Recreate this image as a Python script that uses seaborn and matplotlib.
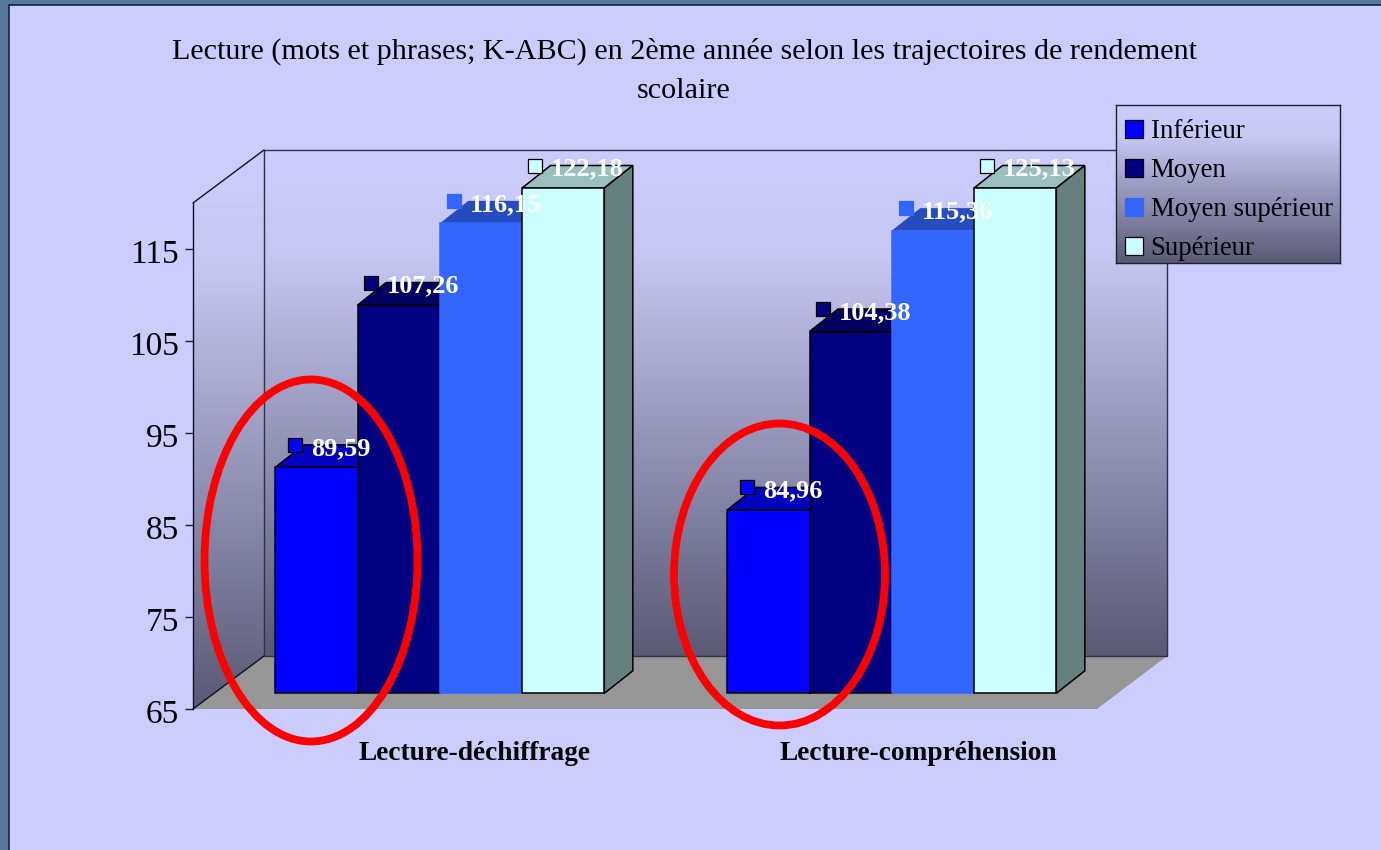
import pandas as pd
import numpy as np
import matplotlib
matplotlib.use('Agg')
import matplotlib.pyplot as plt
import seaborn as sns
from matplotlib.colors import LinearSegmentedColormap, to_rgb
from matplotlib.patches import Polygon, Rectangle, Ellipse, Patch
from matplotlib.transforms import Affine2D

# Chart values
tests = ['Lecture-déchiffrage', 'Lecture-compréhension']
levels = ['Inférieur', 'Moyen', 'Moyen supérieur', 'Supérieur']
inferieur = [89.59, 84.96]
moyen = [107.26, 104.38]
moyen_superieur = [116.15, 115.36]
superieur = [122.18, 125.13]
y_ticks = [65, 75, 85, 95, 105, 115]
title = ('Lecture (mots et phrases; K-ABC) en 2ème année selon les trajectoires de rendement\n'
         'scolaire')

colors = ['#0000FF', '#000080', '#3366FF', '#CCFFFF']
edges = ['black', 'black', '#3366FF', 'black']

W, H = 1381, 850
Y_MIN, Y_MAX = 65, 120

sns.set_theme(style='ticks')
plt.rcParams['font.family'] = ['Liberation Serif', 'DejaVu Serif']

df = pd.DataFrame({
    'test': tests * 4,
    'level': np.repeat(levels, 2),
    'value': inferieur + moyen + moyen_superieur + superieur,
})

wall_cmap = LinearSegmentedColormap.from_list(
    'wall', [(0, '#CCCCFF'), (0.2, '#C7C7F4'), (1, '#5A5A74')])


def px_axes(x0, y0, x1, y1, **kws):
    # axes placed with picture pixels (y going down)
    return fig.add_axes([x0 / W, 1 - y1 / H, (x1 - x0) / W, (y1 - y0) / H], **kws)


def gradient(axis, points, zorder=1):
    xs = [p[0] for p in points]
    ys = [p[1] for p in points]
    img = axis.imshow(np.linspace(0, 1, 256).reshape(-1, 1), cmap=wall_cmap, aspect='auto',
                      extent=[min(xs), max(xs), max(ys), min(ys)], zorder=zorder)
    img.set_clip_path(Polygon(points, transform=axis.transData))


fig = plt.figure(figsize=(W / 100, H / 100), dpi=100, facecolor='#55799F')

# Slide panel, walls and floor, in pixels
bg = fig.add_axes([0, 0, 1, 1], zorder=0)
bg.add_patch(Rectangle((9, 5), W, H, facecolor='#CCCCFF', edgecolor='#14243A', linewidth=1.2))
left_wall = [(193, 203), (264, 150), (264, 656), (193, 709)]
back_wall = [(264, 150), (1167, 150), (1167, 656), (264, 656)]
floor = [(193, 709), (264, 656), (1167, 656), (1097, 709)]
gradient(bg, left_wall)
gradient(bg, back_wall)
bg.add_patch(Polygon(floor, facecolor='#969696', edgecolor='none', zorder=2))
bg.plot([1167, 264, 264, 1167, 1167], [150, 150, 656, 656, 150], color='#30304A', lw=1, zorder=3)
bg.plot([193, 264], [203, 150], color='#101020', lw=1, zorder=3)
bg.plot([193, 264], [709, 656], color='#101020', lw=1, zorder=3)
bg.set_xlim(0, W)
bg.set_ylim(H, 0)
bg.axis('off')

# Y axis, on the front edge of the floor (x runs in pixels here, so ticks are 8 px)
ay = px_axes(193, 203, 194, 709, zorder=1)
ay.set_facecolor('none')
ay.hlines(y_ticks, -8, 0, color='#202030', lw=1, clip_on=False)
ay.set_xlim(0, 1)
ay.set_ylim(Y_MIN, Y_MAX)
ay.set_yticks(y_ticks)
ay.set_xticks([])
for name in ['top', 'right', 'bottom']:
    ay.spines[name].set_visible(False)
ay.spines['left'].set_color('#101020')
ay.spines['left'].set_linewidth(1)
ay.tick_params(axis='y', left=False, labelsize=24, labelcolor='black', pad=4.2)
for lab in ay.get_yticklabels():
    lab.set_transform(lab.get_transform() + Affine2D().translate(0, -2))

# Bars, on their own plane set back from the y axis
ax = px_axes(213.8, 188, 1117.8, 693.3, zorder=2)
ax.set_facecolor('none')
sns.barplot(data=df, x='test', y='value', hue='level', order=tests, hue_order=levels,
            palette=colors, saturation=1, width=0.728, gap=0, legend=False, ax=ax)
ax.set_xlim(-0.5, 1.5)
ax.set_ylim(Y_MIN, Y_MAX)
sns.despine(ax=ax, left=True, bottom=True, top=True, right=True)
ax.set_xlabel('')
ax.set_ylabel('')
ax.tick_params(axis='both', left=False, bottom=False, labelleft=False, length=0, pad=34.5)
for lab, shift in zip(ax.get_xticklabels(), [35, 27]):
    lab.set_fontsize(19.7)
    lab.set_fontweight('bold')
    lab.set_color('black')
    lab.set_transform(lab.get_transform() + Affine2D().translate(shift, 0))

# pixels to data units on the bar plane
ux = 1 / 452
uy = (Y_MAX - Y_MIN) / (693.3 - 188)
depth_x, depth_y = 28.5 * ux, 22.5 * uy
marker_dx = [20, 13, 14, 13]

for i, container in enumerate(ax.containers):
    base = np.array(to_rgb(colors[i]))
    for bar in container:
        value = bar.get_height()
        x0 = bar.get_x()
        x1 = x0 + bar.get_width()
        top = min(value, Y_MAX)
        bar.set_y(Y_MIN)
        bar.set_height(top - Y_MIN)
        bar.set_facecolor(colors[i])
        bar.set_edgecolor(edges[i])
        bar.set_linewidth(1.1)
        bar.set_clip_on(False)
        bar.set_zorder(3 + 2 * i)
        edge = edges[i] if edges[i] == 'black' else 'none'
        ax.add_patch(Polygon([(x0, top), (x0 + depth_x, top + depth_y), (x1 + depth_x, top + depth_y), (x1, top)],
                             facecolor=base * 0.75, edgecolor=edge, linewidth=1.1,
                             clip_on=False, zorder=2 + 2 * i))
        ax.add_patch(Polygon([(x1, Y_MIN), (x1 + depth_x, Y_MIN + depth_y), (x1 + depth_x, top + depth_y), (x1, top)],
                             facecolor=base * 0.5, edgecolor=edge, linewidth=1.1,
                             clip_on=False, zorder=2 + 2 * i))
        mx = x0 + marker_dx[i] * ux
        my = top + 22.5 * uy
        ax.plot([mx], [my], marker='s', ms=10.5, color=colors[i], mec=edges[i], mew=0.9,
                clip_on=False, zorder=20)
        ax.text(mx + 16 * ux, my - 3.5 * uy, f'{value:.2f}'.replace('.', ','), color='white',
                fontsize=19, fontweight='bold', ha='left', va='center', zorder=21, clip_on=False)

# Title
fig.text(684 / W, 1 - 71 / H, title, ha='center', va='center', fontsize=21.7,
         color='black', linespacing=1.62)

# Red ellipses on top of the chart
over = fig.add_axes([0, 0, 1, 1], zorder=4)
over.set_facecolor('none')
over.set_xlim(0, W)
over.set_ylim(H, 0)
over.axis('off')
for cx, cy, w, h in [(311, 560.5, 213, 362), (779.5, 574.5, 211, 302)]:
    over.add_patch(Ellipse((cx, cy), w, h, facecolor='none', edgecolor='#FF0000', linewidth=5.6))

# Legend box with its own gradient
la = px_axes(1115.5, 105, 1340, 263, zorder=5)
la.imshow(np.linspace(0, 1, 256).reshape(-1, 1), aspect='auto', extent=[0, 1, 0, 1], cmap=wall_cmap)
la.set_xticks([])
la.set_yticks([])
for spine in la.spines.values():
    spine.set_color('#202030')
    spine.set_linewidth(1)
handles = [Patch(facecolor=c, edgecolor=e, linewidth=0.9) for c, e in zip(colors, edges)]
la.legend(handles, levels, loc='center left', bbox_to_anchor=(0, 0.46), frameon=False, fontsize=19.4,
          handlelength=0.68, handleheight=0.68, handletextpad=0.27, labelspacing=0.52,
          borderaxespad=0, borderpad=0.35, labelcolor='black')

plt.savefig('out.png', dpi=100, facecolor=fig.get_facecolor())
